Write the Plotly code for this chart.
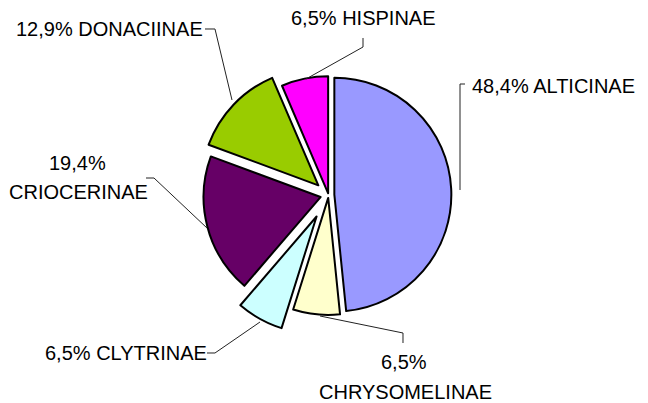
import plotly.graph_objects as go

# ---- data ----
subfamilies = ["ALTICINAE", "CHRYSOMELINAE", "CLYTRINAE", "CRIOCERINAE", "DONACIINAE", "HISPINAE"]
counts = [15, 2, 2, 6, 4, 2]
pct_labels = ["48,4%", "6,5%", "6,5%", "19,4%", "12,9%", "6,5%"]
slice_colors = ["#9999FF", "#FFFFCC", "#CCFFFF", "#660066", "#99CC00", "#FF00FF"]
pulls = [0.05, 0.025, 0.21, 0.07, 0.12, 0.015]

W, H = 648, 403


def px(x):
    return x / W


def py(y):
    return 1 - y / H


# pie placement (pixels)
cx, cy, r = 328.5, 195.0, 117.0
half = r * (1 + max(pulls))

fig = go.Figure(
    go.Pie(
        labels=subfamilies,
        values=counts,
        sort=False,
        direction="clockwise",
        rotation=0,
        pull=pulls,
        marker=dict(colors=slice_colors, line=dict(color="#000000", width=2)),
        textinfo="none",
        hoverinfo="label+percent",
        showlegend=False,
        domain=dict(x=[px(cx - half), px(cx + half)], y=[py(cy + half), py(cy - half)]),
    )
)

# leader lines (pixel paths)
leaders = [
    [(460, 190), (460, 84), (465, 84)],
    [(320, 316), (403, 333), (403, 343)],
    [(260, 322), (215, 353), (207, 353)],
    [(207, 228), (154, 178), (146, 178)],
    [(232, 100), (215, 29), (205, 29)],
    [(306, 79), (363, 47), (363, 38)],
]
shapes = []
for pts in leaders:
    path = "M " + " L ".join(f"{px(x):.5f},{py(y):.5f}" for x, y in pts)
    shapes.append(dict(type="path", xref="paper", yref="paper", path=path,
                       line=dict(color="#222222", width=1)))

font = dict(family="Liberation Sans, Arial, sans-serif", size=20, color="#000000")

# label placement: (text, x, y, xanchor)
label_items = [
    (f"{pct_labels[0]} {subfamilies[0]}", 470, 86, "left"),
    (pct_labels[1], 404, 362, "center"),
    (subfamilies[1], 405, 392, "center"),
    (f"{pct_labels[2]} {subfamilies[2]}", 209, 353, "right"),
    (pct_labels[3], 77, 163, "center"),
    (subfamilies[3], 78, 192, "center"),
    (f"{pct_labels[4]} {subfamilies[4]}", 205, 29, "right"),
    (f"{pct_labels[5]} {subfamilies[5]}", 363.5, 18, "center"),
]
annotations = [
    dict(text=t, x=px(x), y=py(y), xref="paper", yref="paper", xanchor=xa,
         yanchor="middle", showarrow=False, font=font)
    for t, x, y, xa in label_items
]

fig.update_layout(
    width=W,
    height=H,
    margin=dict(l=0, r=0, t=0, b=0),
    paper_bgcolor="#FFFFFF",
    plot_bgcolor="#FFFFFF",
    shapes=shapes,
    annotations=annotations,
)

fig.write_html(
    "out.html",
    config={"displayModeBar": False},
    post_script="document.body.style.margin='0';document.body.style.overflow='hidden';",
)
